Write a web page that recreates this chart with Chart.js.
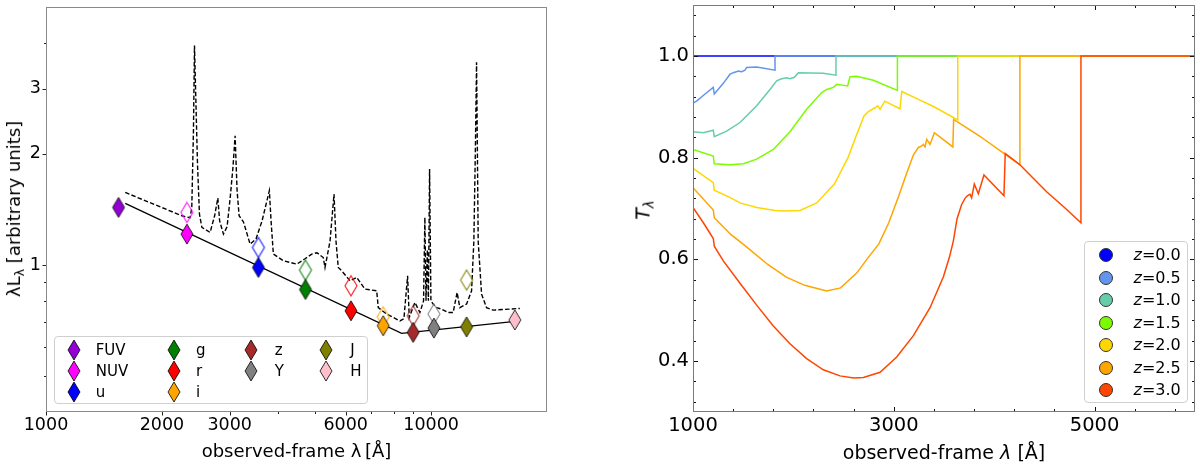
<!DOCTYPE html>
<html>
<head>
<meta charset="utf-8">
<title>SED and IGM transmission</title>
<script src="https://cdn.jsdelivr.net/npm/chart.js@4.4.1/dist/chart.umd.min.js"></script>
<style>
  html, body { margin:0; padding:0; background:#fff; }
  body { width:1200px; height:466px; position:relative; overflow:hidden; font-family:"DejaVu Sans", sans-serif; color:#000; }
  .panel { position:absolute; top:0; width:600px; height:466px; }
  #p1 { left:0; } #p2 { left:600px; }
  .txt { position:absolute; white-space:nowrap; line-height:1; }
  .rot { transform: translate(-50%,-50%) rotate(-90deg); }
  .ctr { transform: translate(-50%,-50%); }
  .sub { font-size:70%; position:relative; top:0.32em; }
  .legend { position:absolute; box-sizing:border-box; border:1px solid #d0d0d0; border-radius:4px; background:rgba(255,255,255,0.85); }
  .li { position:absolute; white-space:nowrap; line-height:1; transform:translateY(-50%); }
  .mk { position:absolute; transform:translate(-50%,-50%); line-height:0; }
</style>
</head>
<body>
<div class="panel" id="p1"><canvas id="c1"></canvas></div>
<div class="panel" id="p2"><canvas id="c2"></canvas></div>
<div id="overlay"></div>
<script>
// ================= LEFT PANEL DATA =================
const specLambda = [1606, 2253, 2367, 2391, 2415, 2430, 2455, 2474, 2503, 2540, 2668, 2741, 2794, 2824, 2889, 2953, 3008, 3060, 3098, 3135, 3173, 3255, 3308, 3388, 3512, 3640, 3802, 3841, 3894, 4134, 4479, 4706, 4898, 5055, 5249, 5303, 5465, 5597, 5664, 5741, 5859, 6157, 6408, 6735, 7223, 7293, 7665, 8300, 8501, 8690, 8775, 9078, 9354, 9560, 9636, 9700, 9780, 9840, 9911, 9990, 10125, 10335, 10647, 11076, 11410, 11686, 11875, 12365, 12740, 12915, 13031, 13125, 13190, 13254, 13525, 13932, 14490, 17000];
const specFlux = [1.573, 1.360, 1.344, 1.43, 2.31, 3.93, 2.57, 1.88, 1.375, 1.265, 1.226, 1.36, 1.519, 1.318, 1.213, 1.27, 1.52, 1.85, 2.24, 1.59, 1.36, 1.31, 1.24, 1.14, 1.178, 1.318, 1.59, 1.318, 1.071, 1.027, 1.006, 1.04, 1.071, 1.08, 1.048, 0.985, 1.16, 1.557, 1.16, 0.985, 0.965, 0.907, 0.926, 0.861, 0.852, 0.767, 0.737, 0.706, 0.716, 0.935, 0.721, 0.792, 0.744, 0.80, 1.346, 0.80, 1.10, 0.80, 1.82, 0.80, 0.784, 0.767, 0.760, 0.744, 0.744, 0.843, 0.767, 0.784, 0.852, 1.16, 2.04, 3.54, 2.04, 1.16, 0.834, 0.767, 0.755, 0.763];
const contLambda = [1606, 8386, 17000];
const contFlux = [1.469, 0.653, 0.706];
const bandNames = ['FUV', 'NUV', 'u', 'g', 'r', 'i', 'z', 'Y', 'J', 'H'];
const bandColors = ['#9400D3', '#FF00FF', '#0000FF', '#008000', '#FF0000', '#FFA500', '#A52A2A', '#808080', '#808000', '#FFC0CB'];
const bandLambda = [1543, 2322, 3561, 4718, 6194, 7510, 8985, 10170, 12365, 16500];
const bandObsFlux = [1.433, 1.213, 0.985, 0.859, 0.752, 0.685, 0.657, 0.675, 0.680, 0.710];
const bandModelFlux = [null, 1.389, 1.116, 0.969, 0.879, 0.724, 0.729, 0.737, 0.911, null];
const leftXTickLabels = [1000, 2000, 3000, 6000, 10000];
const leftXMinorTicks = [4000, 5000, 7000, 8000, 9000];
const leftYTickLabels = [1, 2, 3];
const leftYMinorTicks = [0.5, 0.6, 0.7, 0.8, 0.9, 4];

// ================= RIGHT PANEL DATA =================
const zLabels = ['0.0', '0.5', '1.0', '1.5', '2.0', '2.5', '3.0'];
const zColors = ['#0000FF', '#6495ED', '#66CDAA', '#7CFC00', '#FFD700', '#FFA500', '#FF4500'];
const lamZ00 = [1000, 6000];
const tZ00 = [1.0, 1.0];
const lamZ05 = [1000, 1036, 1120, 1202, 1212, 1302, 1369, 1402, 1452, 1485, 1518, 1534, 1634, 1817, 1817, 6000];
const tZ05 = [0.907, 0.911, 0.925, 0.938, 0.925, 0.946, 0.964, 0.967, 0.970, 0.969, 0.972, 0.977, 0.978, 0.972, 1.0, 1.0];
const lamZ10 = [1000, 1103, 1202, 1212, 1335, 1468, 1634, 1767, 1833, 1883, 1933, 1966, 2010, 2049, 2298, 2424, 2424, 6000];
const tZ10 = [0.851, 0.849, 0.854, 0.841, 0.852, 0.869, 0.902, 0.934, 0.951, 0.955, 0.957, 0.955, 0.958, 0.967, 0.966, 0.962, 1.0, 1.0];
const lamZ15 = [1000, 1202, 1212, 1369, 1502, 1634, 1800, 1966, 2132, 2282, 2332, 2365, 2398, 2431, 2470, 2540, 2564, 2630, 2796, 3036, 3036, 6000];
const tZ15 = [0.816, 0.803, 0.788, 0.786, 0.788, 0.797, 0.816, 0.851, 0.895, 0.928, 0.934, 0.936, 0.938, 0.944, 0.943, 0.941, 0.959, 0.960, 0.952, 0.932, 1.0, 1.0];
const lamZ20 = [1000, 1202, 1212, 1376, 1468, 1634, 1818, 1900, 2066, 2232, 2408, 2544, 2620, 2703, 2750, 2813, 2840, 2863, 2910, 3062, 3079, 3219, 3400, 3637, 3637, 6000];
const tZ20 = [0.779, 0.751, 0.736, 0.721, 0.711, 0.702, 0.696, 0.695, 0.696, 0.711, 0.748, 0.800, 0.840, 0.882, 0.891, 0.898, 0.902, 0.895, 0.911, 0.896, 0.930, 0.917, 0.900, 0.874, 1.0, 1.0];
const lamZ25 = [1000, 1202, 1212, 1376, 1468, 1560, 1745, 1929, 2113, 2331, 2470, 2630, 2750, 2850, 2950, 3050, 3120, 3195, 3245, 3278, 3294, 3311, 3328, 3361, 3404, 3588, 3596, 3700, 3858, 4107, 4256, 4256, 6000];
const tZ25 = [0.741, 0.697, 0.682, 0.649, 0.635, 0.620, 0.590, 0.565, 0.549, 0.538, 0.544, 0.573, 0.605, 0.630, 0.672, 0.725, 0.765, 0.805, 0.820, 0.823, 0.826, 0.821, 0.836, 0.826, 0.849, 0.821, 0.875, 0.862, 0.842, 0.807, 0.786, 1.0, 1.0];
const lamZ30 = [1000, 1103, 1202, 1212, 1302, 1468, 1634, 1800, 1966, 2132, 2298, 2464, 2600, 2697, 2863, 3029, 3195, 3361, 3494, 3555, 3593, 3630, 3676, 3709, 3732, 3759, 3775, 3802, 3842, 3898, 4097, 4110, 4256, 4522, 4700, 4864, 4864, 6000];
const tZ30 = [0.702, 0.672, 0.641, 0.626, 0.597, 0.553, 0.510, 0.469, 0.434, 0.405, 0.383, 0.371, 0.367, 0.368, 0.378, 0.408, 0.450, 0.505, 0.566, 0.605, 0.636, 0.680, 0.708, 0.720, 0.725, 0.728, 0.721, 0.748, 0.729, 0.766, 0.725, 0.808, 0.786, 0.733, 0.702, 0.672, 1.0, 1.0];
const rightXTickLabels = [1000, 3000, 5000];
const rightXMinorTicks = [1400, 1800, 2200, 2600, 3400, 3800, 4200, 4600, 5400, 5800];
const rightYTickLabels = [0.4, 0.6, 0.8, 1.0];
const rightYMinorTicks = [0.32, 0.36, 0.44, 0.48, 0.52, 0.56, 0.64, 0.68, 0.72, 0.76, 0.84, 0.88, 0.92, 0.96, 1.04, 1.08];

// ================= HELPERS =================
Chart.defaults.font.family = '"DejaVu Sans", sans-serif';
Chart.defaults.color = '#000';

function xy(xs, ys) { return xs.map((x, i) => ({ x: x, y: ys[i] })); }

function withAlpha(hex, a) {
  const n = parseInt(hex.slice(1), 16);
  return 'rgba(' + ((n >> 16) & 255) + ',' + ((n >> 8) & 255) + ',' + (n & 255) + ',' + a + ')';
}

function diamondCanvas(fill, stroke, lw) {
  const c = document.createElement('canvas');
  c.width = 16; c.height = 24;
  const g = c.getContext('2d');
  g.beginPath();
  g.moveTo(8, 2); g.lineTo(14, 12); g.lineTo(8, 22); g.lineTo(2, 12); g.closePath();
  if (fill) { g.fillStyle = fill; g.fill(); }
  g.lineWidth = lw; g.strokeStyle = stroke; g.stroke();
  return c;
}

// drop the automatic label overflow padding so the plot area is placed exactly
function fixPad(s) { s.paddingTop = 0; s.paddingBottom = 0; s.paddingLeft = 0; s.paddingRight = 0; }

const frameTicks = {
  id: 'frameTicks',
  afterDraw(chart, args, o) {
    const ctx = chart.ctx, a = chart.chartArea;
    const xs = chart.scales.x, ys = chart.scales.y;
    const s = o.inward ? -1 : 1;
    ctx.save();
    ctx.lineWidth = 1;
    ctx.strokeStyle = o.tickColor;
    ctx.beginPath();
    const addX = (vals, len) => vals.forEach(v => {
      const p = Math.round(xs.getPixelForValue(v)) + 0.5;
      ctx.moveTo(p, a.bottom); ctx.lineTo(p, a.bottom + s * len);
      if (o.allSides) { ctx.moveTo(p, a.top); ctx.lineTo(p, a.top - s * len); }
    });
    const addY = (vals, len) => vals.forEach(v => {
      const p = Math.round(ys.getPixelForValue(v)) + 0.5;
      ctx.moveTo(a.left, p); ctx.lineTo(a.left - s * len, p);
      if (o.allSides) { ctx.moveTo(a.right, p); ctx.lineTo(a.right + s * len, p); }
    });
    addX(o.xMajor, o.majorLen); addX(o.xMinor, o.minorLen);
    addY(o.yMajor, o.majorLen); addY(o.yMinor, o.minorLen);
    ctx.stroke();
    ctx.strokeStyle = o.frameColor;
    ctx.strokeRect(Math.round(a.left) + 0.5, Math.round(a.top) + 0.5, Math.round(a.width) - 1, Math.round(a.height) - 1);
    ctx.restore();
  }
};

// ================= LEFT CHART =================
const filledPts = [], filledStyles = [], openPts = [], openStyles = [];
bandNames.forEach((n, i) => {
  filledPts.push({ x: bandLambda[i], y: bandObsFlux[i] });
  filledStyles.push(diamondCanvas(bandColors[i], '#000', 0.8));
  if (bandModelFlux[i] !== null) {
    openPts.push({ x: bandLambda[i], y: bandModelFlux[i] });
    openStyles.push(diamondCanvas(null, withAlpha(bandColors[i], 0.85), 1.2));
  }
});

new Chart(document.getElementById('c1'), {
  type: 'line',
  data: {
    datasets: [
      { label: 'composite spectrum', data: xy(specLambda, specFlux), borderColor: '#000', borderWidth: 1.4, borderDash: [4.5, 2.2], pointRadius: 0, tension: 0, fill: false, order: 3 },
      { label: 'continuum', data: xy(contLambda, contFlux), borderColor: '#000', borderWidth: 1.3, pointRadius: 0, tension: 0, fill: false, order: 2 },
      { type: 'scatter', label: 'model photometry', data: openPts, pointStyle: openStyles, pointRadius: 6, showLine: false, order: 1 },
      { type: 'scatter', label: 'photometry', data: filledPts, pointStyle: filledStyles, pointRadius: 6, showLine: false, order: 0 }
    ]
  },
  options: {
    responsive: true, maintainAspectRatio: false, animation: false,
    layout: { padding: { left: 0, right: 53, top: 5, bottom: 0 } },
    plugins: {
      legend: { display: false }, tooltip: { enabled: false },
      frameTicks: { inward: false, allSides: false, tickColor: '#222', frameColor: '#8a8a8a', majorLen: 3.5, minorLen: 2,
        xMajor: leftXTickLabels, xMinor: leftXMinorTicks, yMajor: leftYTickLabels, yMinor: leftYMinorTicks }
    },
    scales: {
      x: {
        type: 'logarithmic', min: 1000, max: 20000,
        afterFit(s) { s.height = 54; fixPad(s); },
        afterBuildTicks(s) { s.ticks = leftXTickLabels.map(v => ({ value: v })); },
        ticks: { autoSkip: false, maxRotation: 0, minRotation: 0, padding: 3, font: { size: 17.5 }, color: '#000', callback: v => String(v) },
        grid: { display: false, drawTicks: false }, border: { display: false }
      },
      y: {
        type: 'logarithmic', min: 0.4, max: 5,
        afterFit(s) { s.width = 46; fixPad(s); },
        afterBuildTicks(s) { s.ticks = leftYTickLabels.map(v => ({ value: v })); },
        ticks: { autoSkip: false, padding: 5, font: { size: 17.5 }, color: '#000', callback: v => String(v) },
        grid: { display: false, drawTicks: false }, border: { display: false }
      }
    }
  },
  plugins: [frameTicks]
});

// ================= RIGHT CHART =================
const zLam = [lamZ00, lamZ05, lamZ10, lamZ15, lamZ20, lamZ25, lamZ30];
const zT = [tZ00, tZ05, tZ10, tZ15, tZ20, tZ25, tZ30];
new Chart(document.getElementById('c2'), {
  type: 'line',
  data: {
    datasets: zLabels.map((z, i) => ({
      label: 'z=' + z, data: xy(zLam[i], zT[i]), borderColor: zColors[i], borderWidth: 1.5,
      pointRadius: 0, tension: 0, fill: false, order: zLabels.length - 1 - i
    }))
  },
  options: {
    responsive: true, maintainAspectRatio: false, animation: false,
    layout: { padding: { left: 0, right: 5, top: 5, bottom: 0 } },
    plugins: {
      legend: { display: false }, tooltip: { enabled: false },
      frameTicks: { inward: true, allSides: true, tickColor: '#111', frameColor: '#7a7a7a', majorLen: 5, minorLen: 3,
        xMajor: rightXTickLabels, xMinor: rightXMinorTicks, yMajor: rightYTickLabels, yMinor: rightYMinorTicks }
    },
    scales: {
      x: {
        type: 'linear', min: 1000, max: 6000,
        afterFit(s) { s.height = 54; fixPad(s); },
        afterBuildTicks(s) { s.ticks = rightXTickLabels.map(v => ({ value: v })); },
        ticks: { autoSkip: false, maxRotation: 0, minRotation: 0, padding: 2, font: { size: 19.5 }, color: '#000', callback: v => String(v) },
        grid: { display: false, drawTicks: false }, border: { display: false }
      },
      y: {
        type: 'linear', min: 0.3, max: 1.1,
        afterFit(s) { s.width = 93; fixPad(s); },
        afterBuildTicks(s) { s.ticks = rightYTickLabels.map(v => ({ value: v })); },
        ticks: { autoSkip: false, padding: 4, font: { size: 19.5 }, color: '#000', callback: v => Number(v).toFixed(1) },
        grid: { display: false, drawTicks: false }, border: { display: false }
      }
    }
  },
  plugins: [frameTicks]
});

// ================= TEXT OVERLAYS (axis titles, legends) =================
const ov = document.getElementById('overlay');
function addHTML(html) { ov.insertAdjacentHTML('beforeend', html); }

addHTML('<div class="txt rot" style="left:14px;top:209px;font-size:18px;">λL<span class="sub">λ</span> [arbitrary units]</div>');
addHTML('<div class="txt ctr" style="left:296.5px;top:451px;font-size:18px;">observed-frame λ\u2009[Å]</div>');
addHTML('<div class="txt rot" style="left:643px;top:210px;font-size:19px;"><i>T</i><span class="sub"><i>λ</i></span></div>');
addHTML('<div class="txt ctr" style="left:944px;top:452px;font-size:19px;">observed-frame <i>λ</i> [Å]</div>');

function diamondSVG(fill) {
  return '<svg width="15" height="22" viewBox="0 0 15 22"><polygon points="7.5,1 13.5,11 7.5,21 1.5,11" fill="' + fill + '" stroke="#000" stroke-width="0.8"/></svg>';
}
// left legend: 4 columns, matplotlib-style column filling
addHTML('<div class="legend" style="left:54px;top:336px;width:314px;height:68px;"></div>');
const lgColMarkerX = [73.5, 174.1, 250.7, 326];
const lgColTextX = [95.7, 196, 274.8, 350.2];
const lgRowY = [349.6, 370.5, 391.7];
(function () {
  const ncol = 4, n = bandNames.length, nrows = Math.ceil(n / ncol);
  const nLarge = n % ncol === 0 ? ncol : n % ncol;
  let idx = 0;
  for (let c = 0; c < ncol; c++) {
    const rows = c < nLarge ? nrows : nrows - 1;
    for (let r = 0; r < rows && idx < n; r++, idx++) {
      addHTML('<div class="mk" style="left:' + lgColMarkerX[c] + 'px;top:' + lgRowY[r] + 'px;">' + diamondSVG(bandColors[idx]) + '</div>');
      addHTML('<div class="li" style="left:' + lgColTextX[c] + 'px;top:' + lgRowY[r] + 'px;font-size:15px;">' + bandNames[idx] + '</div>');
    }
  }
})();

// right legend
addHTML('<div class="legend" style="left:1084px;top:241px;width:104px;height:162px;"></div>');
zLabels.forEach((z, i) => {
  const y = 255 + i * 22.5;
  addHTML('<div class="mk" style="left:1106px;top:' + y + 'px;"><svg width="16" height="16" viewBox="0 0 16 16"><circle cx="8" cy="8" r="6.5" fill="' + zColors[i] + '" stroke="#333" stroke-width="1"/></svg></div>');
  addHTML('<div class="li" style="left:1133.5px;top:' + y + 'px;font-size:16px;"><i>z</i>=' + z + '</div>');
});
</script>
</body>
</html>
